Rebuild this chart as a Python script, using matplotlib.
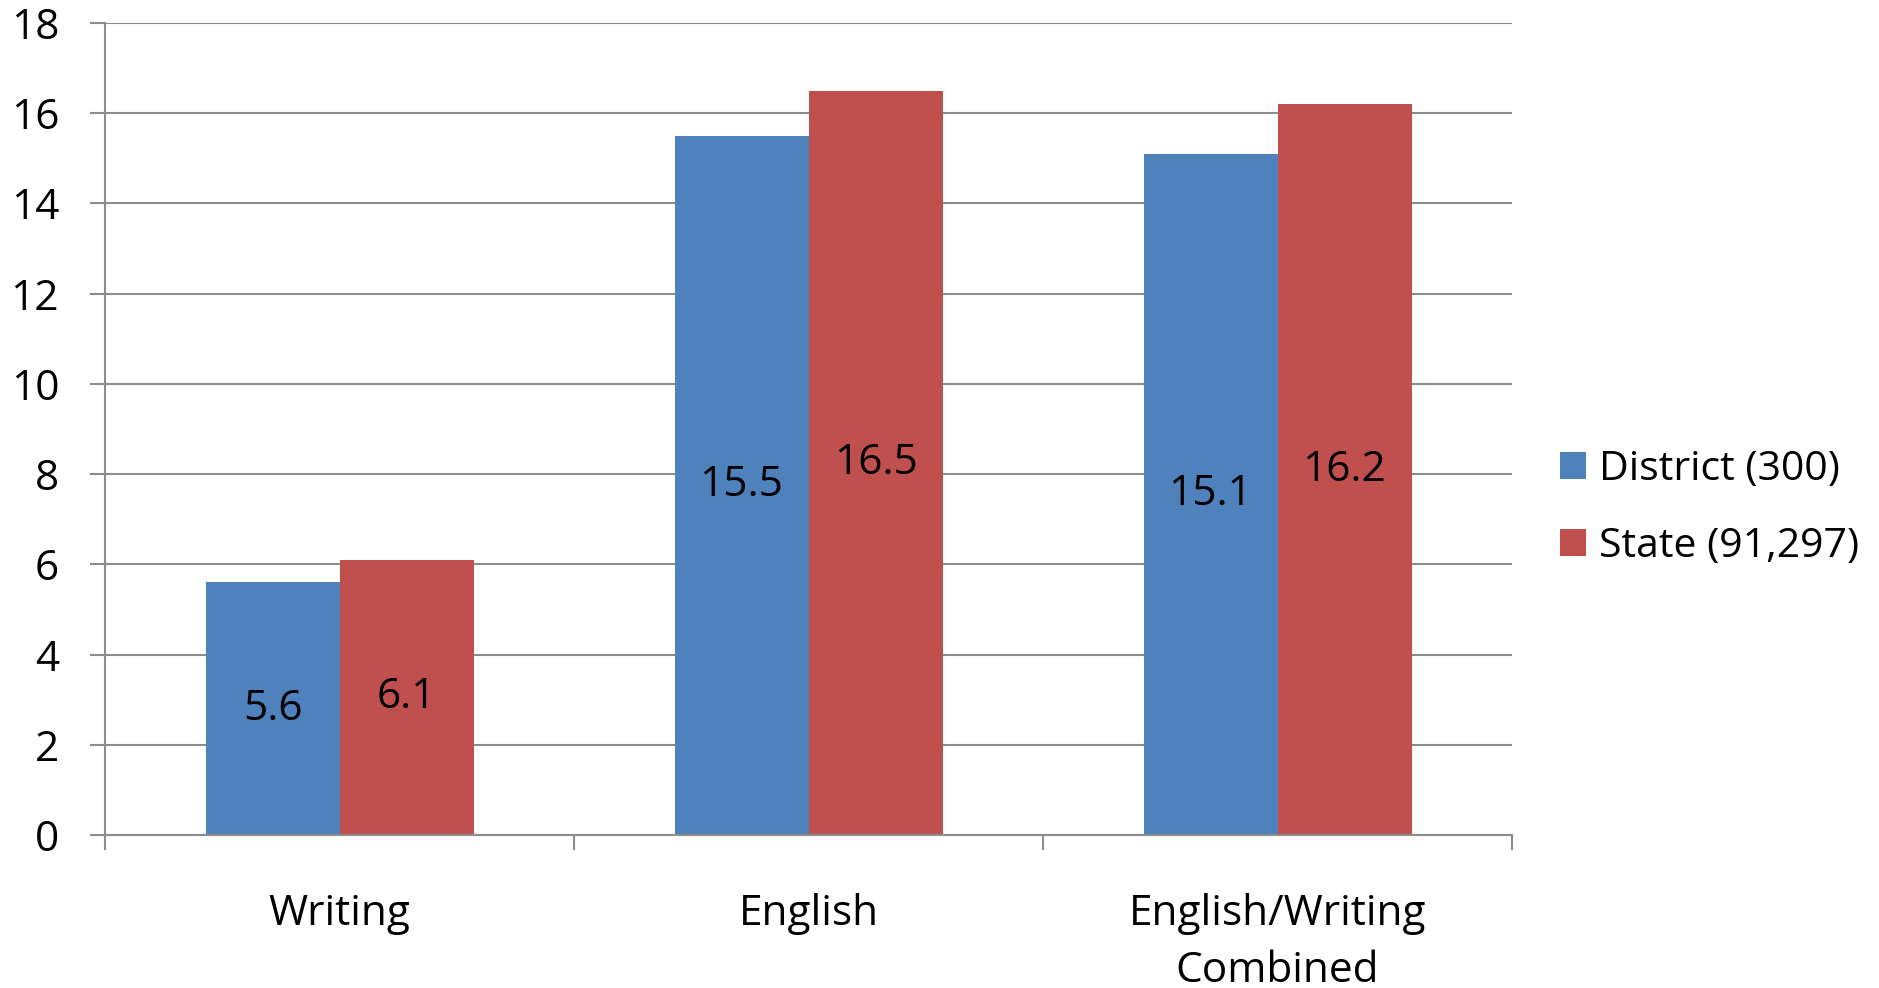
import matplotlib
matplotlib.use("Agg")
import matplotlib.pyplot as plt
import numpy as np
from matplotlib.patches import Patch

plt.rcParams["font.family"] = ["Open Sans", "DejaVu Sans"]

categories = ["Writing", "English", "English/Writing\nCombined"]
district = [5.6, 15.5, 15.1]
state = [6.1, 16.5, 16.2]
series_names = ["District (300)", "State (91,297)"]
y_ticks = [0, 2, 4, 6, 8, 10, 12, 14, 16, 18]

BLUE = "#4F81BD"
RED = "#C0504D"
GRID = "#8C8C8C"
FS = 30.5

fig = plt.figure(figsize=(18.79, 9.88), dpi=100)
ax = fig.add_axes([105 / 1879, 1 - 835 / 988, 1407 / 1879, 812 / 988])

x = np.arange(len(categories))
w = 1 / 3.5  # gap width 150 %

ax.bar(x - w / 2, district, width=w, color=BLUE, edgecolor="none", zorder=2)
ax.bar(x + w / 2, state, width=w, color=RED, edgecolor="none", zorder=2)

# Werte mittig in die Balken
for xi, v in zip(x - w / 2, district):
    ax.text(xi, v / 2, f"{v:.1f}", ha="center", va="center", fontsize=FS, zorder=3)
for xi, v in zip(x + w / 2, state):
    ax.text(xi, v / 2, f"{v:.1f}", ha="center", va="center", fontsize=FS, zorder=3)

ax.set_xlim(-0.5, len(categories) - 0.5)
ax.set_ylim(0, 18)
ax.set_yticks(y_ticks)
ax.set_yticklabels([str(t) for t in y_ticks], fontsize=FS)
ax.yaxis.grid(True, color=GRID, linewidth=1.5, zorder=0)
ax.set_axisbelow(True)

ax.set_xticks(x)
ax.set_xticklabels(categories, fontsize=FS, linespacing=1.45)
ax.set_xticks(np.arange(len(categories) + 1) - 0.5, minor=True)
ax.tick_params(axis="x", which="major", length=0, pad=42)
ax.tick_params(axis="x", which="minor", length=11, width=1.5, color=GRID)
ax.tick_params(axis="y", length=11, width=1.5, color=GRID, pad=22)

for side in ("top", "right"):
    ax.spines[side].set_visible(False)
for side in ("left", "bottom"):
    ax.spines[side].set_color(GRID)
    ax.spines[side].set_linewidth(1.5)

handles = [Patch(facecolor=BLUE, edgecolor="none"), Patch(facecolor=RED, edgecolor="none")]
fig.legend(handles, series_names, loc="center left",
           bbox_to_anchor=(1531 / 1879, 1 - 508 / 988),
           frameon=False, fontsize=29.5, handlelength=0.64, handleheight=0.64,
           handletextpad=0.32, labelspacing=0.88, borderpad=0.2)

fig.savefig("out.png", dpi=100)
